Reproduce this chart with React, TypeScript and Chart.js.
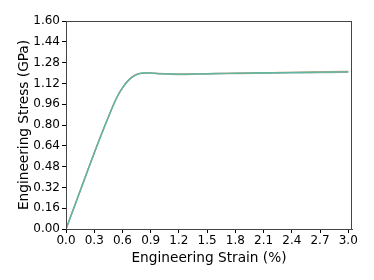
import React, { useEffect, useRef } from "react";
import { Chart, registerables } from "chart.js";

Chart.register(...registerables);

const strain = [0, 0.1, 0.2, 0.3, 0.4, 0.45, 0.5, 0.55, 0.6, 0.65, 0.7, 0.75, 0.8, 0.85, 0.9, 1.0, 1.1, 1.2, 1.4, 1.6, 1.8, 2.0, 2.2, 2.4, 2.6, 2.8, 3.0];
const stressA = [0, 0.195, 0.39, 0.585, 0.772, 0.86, 0.948, 1.025, 1.085, 1.133, 1.167, 1.188, 1.198, 1.201, 1.2, 1.195, 1.192, 1.191, 1.193, 1.196, 1.198, 1.2, 1.202, 1.204, 1.206, 1.208, 1.21];
const stressB = [0, 0.195, 0.39, 0.585, 0.772, 0.86, 0.948, 1.025, 1.085, 1.132, 1.166, 1.187, 1.197, 1.2, 1.199, 1.194, 1.19, 1.189, 1.191, 1.194, 1.196, 1.198, 1.199, 1.201, 1.202, 1.204, 1.205];
const stressC = [0, 0.195, 0.39, 0.585, 0.772, 0.86, 0.948, 1.025, 1.085, 1.134, 1.168, 1.189, 1.199, 1.202, 1.201, 1.196, 1.193, 1.192, 1.194, 1.197, 1.199, 1.201, 1.203, 1.205, 1.208, 1.21, 1.212];
const xTicks = [0, 0.3, 0.6, 0.9, 1.2, 1.5, 1.8, 2.1, 2.4, 2.7, 3.0];
const yTicks = [0, 0.16, 0.32, 0.48, 0.64, 0.8, 0.96, 1.12, 1.28, 1.44, 1.6];

// first dataset is drawn on top in Chart.js
const seriesColors = ["#5fb6a6", "#9aae90", "#e8a36c"];

const frame = {
  id: "frame",
  afterDraw(chart: any) {
    const { ctx, chartArea: a } = chart;
    ctx.save();
    ctx.strokeStyle = "#444";
    ctx.lineWidth = 1;
    ctx.strokeRect(a.left + 0.5, a.top + 0.5, a.right - a.left - 1, a.bottom - a.top);
    ctx.restore();
  },
};

export default function App() {
  const ref = useRef<HTMLCanvasElement>(null);
  useEffect(() => {
    document.body.style.margin = "0";
    const mk = (ys: number[]) => strain.map((x, i) => ({ x, y: ys[i] }));
    const font = { family: "DejaVu Sans", size: 12 };
    const titleFont = { family: "DejaVu Sans", size: 13.7 };
    const chart = new Chart(ref.current!, {
      type: "line",
      data: {
        datasets: [stressA, stressB, stressC].map((ys, i) => ({
          data: mk(ys),
          borderColor: seriesColors[i],
          borderWidth: 1.4,
          pointRadius: 0,
          cubicInterpolationMode: "monotone" as const,
          fill: false,
        })),
      },
      options: {
        animation: false,
        responsive: false,
        plugins: { legend: { display: false }, tooltip: { enabled: false } },
        layout: { padding: { top: 21, right: 22, left: 0, bottom: 0 } },
        scales: {
          x: {
            type: "linear",
            min: 0,
            max: 3.04,
            afterBuildTicks: (s: any) => {
              s.ticks = xTicks.map((v) => ({ value: v }));
            },
            afterFit: (s: any) => {
              s.height = 51;
            },
            ticks: {
              font,
              color: "#000",
              padding: 1,
              maxRotation: 0,
              autoSkip: false,
              callback: (v: any) => Number(v).toFixed(1),
            },
            grid: { drawOnChartArea: false, drawTicks: true, tickLength: 4, color: "#000" },
            border: { display: true, color: "#444" },
            title: {
              display: true,
              text: "Engineering Strain (%)",
              color: "#000",
              font: titleFont,
              padding: { top: 0, bottom: 13 },
            },
          },
          y: {
            type: "linear",
            min: 0,
            max: 1.6,
            afterBuildTicks: (s: any) => {
              s.ticks = yTicks.map((v) => ({ value: v }));
            },
            afterFit: (s: any) => {
              s.width = 66;
            },
            ticks: {
              font,
              color: "#000",
              padding: 2,
              autoSkip: false,
              callback: (v: any) => Number(v).toFixed(2),
            },
            grid: { drawOnChartArea: false, drawTicks: true, tickLength: 4, color: "#000" },
            border: { display: true, color: "#444" },
            title: {
              display: true,
              text: "Engineering Stress (GPa)",
              color: "#000",
              font: titleFont,
              padding: { top: 16, bottom: 0 },
            },
          },
        },
      },
      plugins: [frame],
    });
    return () => chart.destroy();
  }, []);
  return (
    <div style={{ position: "absolute", left: 0, top: 0, width: 374, height: 280, background: "#fff" }}>
      <canvas ref={ref} width={374} height={280} />
    </div>
  );
}
